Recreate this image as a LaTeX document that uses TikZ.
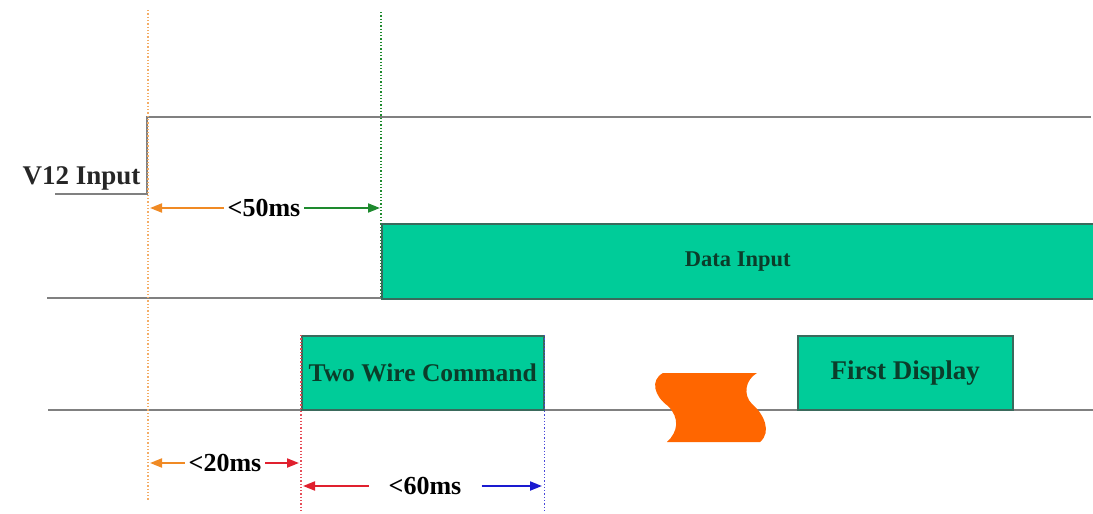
\documentclass[tikz,border=0pt]{standalone}
\usepackage{fontspec}
\setmainfont{Liberation Serif}
\usetikzlibrary{positioning,arrows.meta}
\definecolor{sigfill}{HTML}{00CC99}
\definecolor{sigedge}{HTML}{3A6A5C}
\definecolor{sigtext}{HTML}{0B3D2A}
\definecolor{lineg}{HTML}{808080}
\definecolor{dimorange}{HTML}{F08A24}
\definecolor{dimgreen}{HTML}{1E8A2E}
\definecolor{dimred}{HTML}{E0202E}
\definecolor{dimblue}{HTML}{1A1AD0}
\definecolor{breakc}{HTML}{FF6600}

\begin{document}
\begin{tikzpicture}[x=1pt,y=-1pt,
      sigbox/.style={draw=sigedge,line width=1.5pt,fill=sigfill,anchor=north west,
        inner sep=0pt,text=sigtext,font=\bfseries\fontsize{25.5}{28}\selectfont},
      sigline/.style={draw=lineg,line width=1.8pt},
      guide/.style={dotted,line width=1.3pt},
      dim/.style={line width=2pt,-{Triangle[length=12pt,width=9pt]}},
      dimtxt/.style={inner sep=4pt,font=\bfseries\fontsize{26}{28}\selectfont}]
    \useasboundingbox (0,0) rectangle (1093,514);

    % signal levels
    \draw[sigline] (55,194) -- (147,194) -- (147,117) -- (1091,117);
    \draw[sigline] (47,298) -- (381,298);
    \draw[sigline] (48,410) -- (1093,410);

    \node[anchor=east,font=\bfseries\fontsize{27}{30}\selectfont,text=black!85] (v12) at (144,178) {V12 Input};

    % timing guides
    \draw[guide,draw=dimorange!70] (148,10) -- (148,500);
    \draw[guide,draw=dimgreen] (381,12) -- (381,298);

    \node[sigbox,minimum width=712pt,minimum height=75pt] (data) at (381,223) {};
    \node[text=sigtext,font=\bfseries\fontsize{22.5}{26}\selectfont] (datatxt) at (data.center) {Data Input};
    \node[sigbox,minimum width=242pt,minimum height=74pt] (cmd) at (301,335) {Two Wire Command};
    \node[sigbox,minimum width=215pt,minimum height=74pt,font=\bfseries\fontsize{27}{30}\selectfont] (disp) at (797,335) {First Display};

    \draw[guide,draw=dimred!80] (cmd.north west) -- ++(0,175);
    \draw[guide,draw=dimblue!80] (cmd.north east) -- ++(0,177);

    % time break
    \fill[breakc] (663,373) -- (757,373)
      .. controls (745,380) and (743,395) .. (752,404)
      .. controls (764,414) and (772,432) .. (760,442)
      -- (667,442)
      .. controls (678,432) and (680,418) .. (668,406)
      .. controls (654,396) and (650,380) .. (663,373) -- cycle;

    % <50ms
    \coordinate (a50) at (150,208);
    \coordinate (b50) at (380,208);
    \node[dimtxt] (t50) at (264,208) {<50ms};
    \draw[dim,draw=dimorange,fill=dimorange] (t50) -- (a50);
    \draw[dim,draw=dimgreen,fill=dimgreen] (t50) -- (b50);

    % <20ms
    \coordinate (a20) at (150,463);
    \coordinate (b20) at (299,463);
    \node[dimtxt] (t20) at (225,463) {<20ms};
    \draw[dim,draw=dimorange,fill=dimorange] (t20) -- (a20);
    \draw[dim,draw=dimred,fill=dimred] (t20) -- (b20);

    % <60ms
    \coordinate (a60) at (303,486);
    \coordinate (b60) at (542,486);
    \node[dimtxt,inner xsep=20pt] (t60) at (425,486) {<60ms};
    \draw[dim,draw=dimred,fill=dimred] (t60) -- (a60);
    \draw[dim,draw=dimblue,fill=dimblue] (t60) -- (b60);
  \end{tikzpicture}
\end{document}
